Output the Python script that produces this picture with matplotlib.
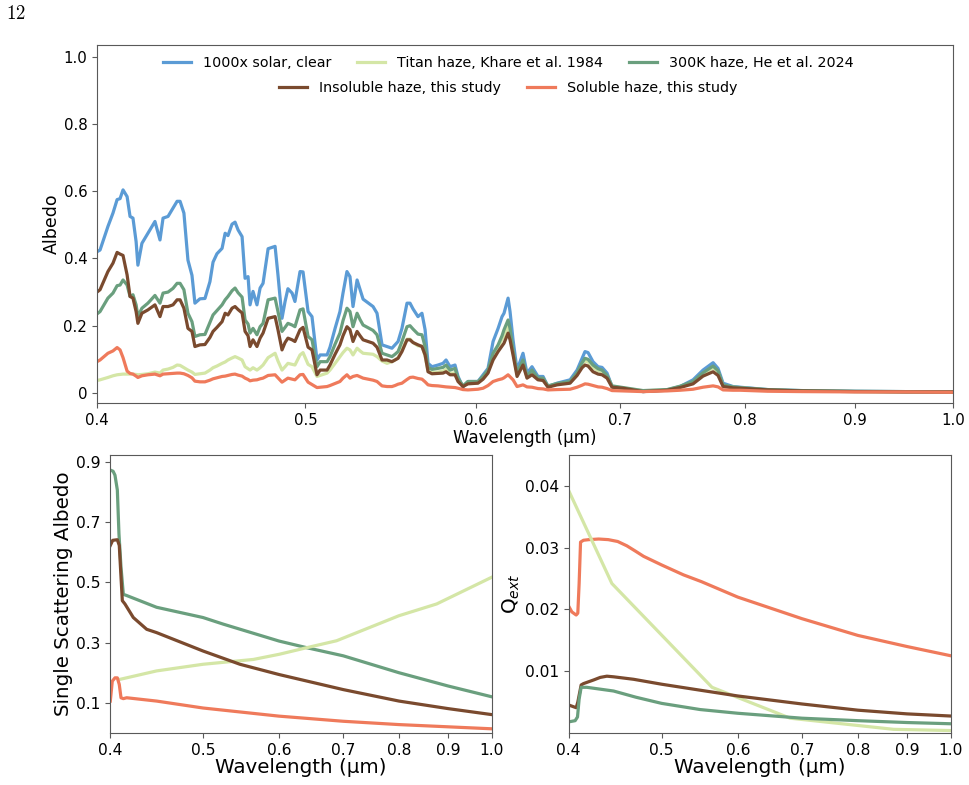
import matplotlib
matplotlib.use('Agg')
import matplotlib.pyplot as plt
from matplotlib.ticker import NullLocator

# ---- top panel: geometric albedo spectra ----
wl = [0.4000, 0.4013, 0.4047, 0.4069, 0.4087, 0.4100, 0.4113, 0.4131, 0.4144, 0.4157,
      0.4171, 0.4179, 0.4197, 0.4224, 0.4256, 0.4279, 0.4293, 0.4316, 0.4339, 0.4358,
      0.4372, 0.4390, 0.4409, 0.4428, 0.4442, 0.4466, 0.4490, 0.4514, 0.4529, 0.4548,
      0.4573, 0.4588, 0.4602, 0.4622, 0.4637, 0.4652, 0.4672, 0.4687, 0.4702, 0.4712,
      0.4727, 0.4747, 0.4763, 0.4778, 0.4804, 0.4840, 0.4855, 0.4876, 0.4892, 0.4907,
      0.4929, 0.4944, 0.4971, 0.4987, 0.5014, 0.5035, 0.5062, 0.5079, 0.5117, 0.5133,
      0.5161, 0.5188, 0.5205, 0.5227, 0.5244, 0.5261, 0.5284, 0.5301, 0.5318, 0.5375,
      0.5398, 0.5427, 0.5456, 0.5485, 0.5503, 0.5521, 0.5544, 0.5574, 0.5592, 0.5610,
      0.5640, 0.5664, 0.5683, 0.5701, 0.5725, 0.5762, 0.5793, 0.5812, 0.5837, 0.5868,
      0.5887, 0.5918, 0.5950, 0.6014, 0.6047, 0.6079, 0.6112, 0.6145, 0.6171, 0.6184,
      0.6211, 0.6224, 0.6244, 0.6271, 0.6311, 0.6338, 0.6372, 0.6413, 0.6448, 0.6482,
      0.6545, 0.6637, 0.6687, 0.6723, 0.6744, 0.6766, 0.6802, 0.6839, 0.6868, 0.6905,
      0.6942, 0.7024, 0.7176, 0.7363, 0.7466, 0.7571, 0.7652, 0.7735, 0.7776, 0.7818,
      0.7902, 0.7962, 0.82, 0.85, 0.90, 0.95, 1.00]

alb_clear = [0.42, 0.425, 0.495, 0.535, 0.575, 0.578, 0.604, 0.584, 0.525, 0.52,
             0.45, 0.38, 0.445, 0.475, 0.51, 0.455, 0.52, 0.525, 0.55, 0.57,
             0.57, 0.535, 0.395, 0.35, 0.267, 0.28, 0.281, 0.331, 0.389, 0.414,
             0.43, 0.475, 0.468, 0.502, 0.508, 0.485, 0.465, 0.341, 0.346, 0.262,
             0.302, 0.262, 0.312, 0.326, 0.429, 0.436, 0.351, 0.222, 0.272, 0.31,
             0.297, 0.272, 0.361, 0.36, 0.242, 0.227, 0.098, 0.113, 0.113, 0.136,
             0.192, 0.242, 0.297, 0.361, 0.346, 0.257, 0.336, 0.307, 0.279, 0.257,
             0.237, 0.143, 0.138, 0.133, 0.143, 0.153, 0.192, 0.267, 0.267, 0.25,
             0.227, 0.237, 0.188, 0.088, 0.078, 0.083, 0.088, 0.098, 0.078, 0.083,
             0.049, 0.017, 0.034, 0.034, 0.054, 0.073, 0.153, 0.192, 0.227, 0.237,
             0.282, 0.242, 0.158, 0.068, 0.118, 0.059, 0.078, 0.049, 0.049, 0.019,
             0.029, 0.039, 0.068, 0.103, 0.123, 0.12, 0.093, 0.078, 0.076, 0.059,
             0.019, 0.014, 0.004, 0.009, 0.019, 0.039, 0.068, 0.09, 0.073, 0.029,
             0.019, 0.017, 0.01, 0.007, 0.005, 0.004, 0.003]

alb_titan = [0.037, 0.039, 0.046, 0.051, 0.054, 0.055, 0.056, 0.056, 0.056, 0.056,
             0.055, 0.054, 0.055, 0.057, 0.062, 0.059, 0.068, 0.071, 0.076, 0.083,
             0.082, 0.075, 0.068, 0.062, 0.055, 0.057, 0.059, 0.068, 0.075, 0.08,
             0.088, 0.092, 0.098, 0.104, 0.108, 0.104, 0.098, 0.078, 0.072, 0.068,
             0.075, 0.068, 0.075, 0.083, 0.105, 0.118, 0.095, 0.068, 0.078, 0.088,
             0.085, 0.083, 0.113, 0.12, 0.085, 0.078, 0.049, 0.052, 0.059, 0.068,
             0.088, 0.108, 0.12, 0.133, 0.128, 0.113, 0.133, 0.125, 0.118, 0.115,
             0.108, 0.095, 0.088, 0.093, 0.098, 0.105, 0.128, 0.16, 0.16, 0.15,
             0.14, 0.14, 0.11, 0.065, 0.06, 0.062, 0.065, 0.07, 0.058, 0.06,
             0.038, 0.02, 0.03, 0.03, 0.045, 0.063, 0.11, 0.135, 0.16, 0.17,
             0.2, 0.175, 0.12, 0.055, 0.09, 0.047, 0.06, 0.041, 0.04, 0.019,
             0.026, 0.032, 0.056, 0.085, 0.095, 0.092, 0.075, 0.066, 0.063, 0.049,
             0.019, 0.015, 0.006, 0.009, 0.018, 0.032, 0.057, 0.075, 0.062, 0.022,
             0.017, 0.015, 0.009, 0.006, 0.004, 0.003, 0.003]

alb_300k = [0.235, 0.242, 0.282, 0.297, 0.319, 0.321, 0.336, 0.321, 0.287, 0.292,
            0.262, 0.227, 0.252, 0.267, 0.29, 0.267, 0.297, 0.30, 0.311, 0.326,
            0.326, 0.307, 0.237, 0.212, 0.168, 0.173, 0.174, 0.21, 0.232, 0.245,
            0.262, 0.277, 0.287, 0.304, 0.312, 0.298, 0.285, 0.217, 0.205, 0.178,
            0.192, 0.173, 0.197, 0.207, 0.277, 0.282, 0.242, 0.183, 0.195, 0.207,
            0.202, 0.197, 0.247, 0.25, 0.168, 0.158, 0.078, 0.093, 0.093, 0.108,
            0.145, 0.178, 0.215, 0.252, 0.242, 0.197, 0.237, 0.218, 0.202, 0.186,
            0.173, 0.118, 0.113, 0.108, 0.115, 0.123, 0.153, 0.197, 0.2, 0.19,
            0.175, 0.173, 0.138, 0.076, 0.07, 0.073, 0.076, 0.083, 0.068, 0.073,
            0.044, 0.021, 0.034, 0.034, 0.049, 0.068, 0.118, 0.143, 0.17, 0.188,
            0.217, 0.192, 0.128, 0.06, 0.098, 0.05, 0.068, 0.044, 0.044, 0.021,
            0.028, 0.034, 0.06, 0.09, 0.103, 0.10, 0.083, 0.072, 0.068, 0.052,
            0.021, 0.016, 0.007, 0.01, 0.02, 0.034, 0.06, 0.08, 0.066, 0.024,
            0.018, 0.016, 0.01, 0.007, 0.005, 0.004, 0.003]

alb_insol = [0.30, 0.307, 0.361, 0.386, 0.418, 0.413, 0.409, 0.351, 0.287, 0.282,
             0.242, 0.207, 0.237, 0.247, 0.262, 0.227, 0.257, 0.257, 0.262, 0.277,
             0.277, 0.252, 0.192, 0.183, 0.138, 0.143, 0.144, 0.165, 0.183, 0.195,
             0.212, 0.237, 0.232, 0.252, 0.257, 0.248, 0.238, 0.183, 0.17, 0.138,
             0.158, 0.138, 0.163, 0.178, 0.222, 0.227, 0.188, 0.128, 0.15, 0.163,
             0.158, 0.153, 0.188, 0.195, 0.136, 0.128, 0.054, 0.068, 0.068, 0.083,
             0.115, 0.143, 0.17, 0.197, 0.188, 0.153, 0.183, 0.17, 0.158, 0.148,
             0.136, 0.098, 0.098, 0.093, 0.098, 0.103, 0.123, 0.158, 0.158, 0.15,
             0.143, 0.138, 0.113, 0.063, 0.057, 0.058, 0.059, 0.063, 0.054, 0.054,
             0.034, 0.019, 0.027, 0.029, 0.041, 0.059, 0.098, 0.123, 0.14, 0.148,
             0.178, 0.158, 0.113, 0.049, 0.083, 0.044, 0.054, 0.039, 0.037, 0.017,
             0.024, 0.029, 0.052, 0.075, 0.083, 0.08, 0.063, 0.056, 0.054, 0.044,
             0.017, 0.014, 0.004, 0.008, 0.016, 0.027, 0.05, 0.063, 0.052, 0.019,
             0.015, 0.014, 0.009, 0.006, 0.004, 0.003, 0.003]

alb_sol = [0.093, 0.098, 0.118, 0.125, 0.135, 0.128, 0.105, 0.065, 0.058, 0.056,
           0.05, 0.046, 0.051, 0.054, 0.056, 0.051, 0.056, 0.057, 0.058, 0.059,
           0.059, 0.057, 0.052, 0.045, 0.035, 0.033, 0.033, 0.038, 0.042, 0.045,
           0.049, 0.05, 0.052, 0.055, 0.056, 0.053, 0.05, 0.044, 0.04, 0.036,
           0.038, 0.039, 0.042, 0.044, 0.052, 0.054, 0.045, 0.032, 0.038, 0.044,
           0.041, 0.039, 0.054, 0.055, 0.032, 0.025, 0.016, 0.017, 0.019, 0.022,
           0.028, 0.034, 0.044, 0.054, 0.044, 0.049, 0.052, 0.048, 0.044, 0.038,
           0.034, 0.021, 0.019, 0.019, 0.022, 0.026, 0.029, 0.04, 0.046, 0.047,
           0.043, 0.041, 0.033, 0.024, 0.022, 0.021, 0.019, 0.018, 0.017, 0.016,
           0.014, 0.01, 0.009, 0.011, 0.014, 0.022, 0.034, 0.039, 0.042, 0.045,
           0.054, 0.048, 0.039, 0.019, 0.024, 0.018, 0.017, 0.013, 0.012, 0.009,
           0.01, 0.011, 0.017, 0.023, 0.027, 0.026, 0.022, 0.018, 0.017, 0.013,
           0.007, 0.006, 0.004, 0.006, 0.008, 0.011, 0.017, 0.021, 0.018, 0.009,
           0.008, 0.008, 0.005, 0.004, 0.003, 0.003, 0.002]

# ---- bottom left: single scattering albedo ----
ssa_300k_wl = [0.4003, 0.4030, 0.4048, 0.4071, 0.4087, 0.4107, 0.4130, 0.4163, 0.4473, 0.5,
               0.525, 0.6, 0.6412, 0.7, 0.8, 0.9, 1.0]
ssa_300k = [0.872, 0.868, 0.855, 0.806, 0.66, 0.55, 0.46, 0.456, 0.417, 0.383,
            0.361, 0.305, 0.283, 0.256, 0.2, 0.156, 0.12]
ssa_insol_wl = [0.4003, 0.4026, 0.4071, 0.4090, 0.4107, 0.4120, 0.4146, 0.4230, 0.4368, 0.4473,
                0.5, 0.5463, 0.6, 0.7, 0.8, 0.9, 1.0]
ssa_insol = [0.622, 0.639, 0.641, 0.622, 0.517, 0.439, 0.428, 0.383, 0.344, 0.333,
             0.272, 0.228, 0.194, 0.144, 0.106, 0.081, 0.061]
ssa_titan_wl = [0.4097, 0.4473, 0.5, 0.5641, 0.6, 0.6412, 0.6888, 0.8, 0.8757, 1.0]
ssa_titan = [0.178, 0.206, 0.228, 0.244, 0.261, 0.283, 0.306, 0.389, 0.428, 0.517]
ssa_sol_wl = [0.4003, 0.4022, 0.4048, 0.4071, 0.4090, 0.4107, 0.4130, 0.4163, 0.4473, 0.5,
              0.6, 0.7, 0.8, 1.0]
ssa_sol = [0.106, 0.172, 0.183, 0.183, 0.161, 0.117, 0.114, 0.117, 0.106, 0.083,
           0.056, 0.039, 0.028, 0.014]

# ---- bottom right: extinction efficiency ----
q_sol_wl = [0.4006, 0.4032, 0.4074, 0.4090, 0.4103, 0.4117, 0.4146, 0.42, 0.43, 0.44,
            0.45, 0.46, 0.47, 0.4788, 0.5, 0.5268, 0.55, 0.6, 0.7, 0.8, 0.9, 1.0]
q_sol = [0.0204, 0.0196, 0.0191, 0.0194, 0.0242, 0.0309, 0.0312, 0.0313, 0.0314, 0.0313,
         0.0310, 0.0303, 0.0294, 0.0286, 0.0272, 0.0256, 0.0245, 0.0220, 0.0185, 0.0158,
         0.0140, 0.0125]
q_titan_wl = [0.4, 0.4438, 0.5641, 0.6803, 0.8716, 1.0]
q_titan = [0.0393, 0.0242, 0.0074, 0.0024, 0.0006, 0.0004]
q_insol_wl = [0.4, 0.4074, 0.4090, 0.4123, 0.4146, 0.4250, 0.4315, 0.4385, 0.4456, 0.4674,
              0.5, 0.55, 0.6, 0.7, 0.8, 0.9, 1.0]
q_insol = [0.00455, 0.0041, 0.0050, 0.00778, 0.0080, 0.0086, 0.0090, 0.0092, 0.0091, 0.0087,
           0.0079, 0.0069, 0.0060, 0.0047, 0.0037, 0.0031, 0.00275]
q_300k_wl = [0.4, 0.4064, 0.4087, 0.4103, 0.4123, 0.4180, 0.4456, 0.47, 0.5, 0.5483,
             0.6, 0.7, 0.8, 0.9, 1.0]
q_300k = [0.0018, 0.0020, 0.0026, 0.0055, 0.0074, 0.0074, 0.0068, 0.0058, 0.0048, 0.0038,
          0.0032, 0.0024, 0.0020, 0.0017, 0.0015]

wl_ticks = [0.4, 0.5, 0.6, 0.7, 0.8, 0.9, 1.0]
wl_ticklabels = ['0.4', '0.5', '0.6', '0.7', '0.8', '0.9', '1.0']

c_clear = '#5b9bd5'
c_titan = '#d4e6a6'
c_300k = '#6a9f7e'
c_insol = '#7a4a2e'
c_sol = '#ef7a5b'
lw = 2.3
spine_col = '0.35'


def style_axes(ax, tick_size):
    ax.set_xscale('log')
    ax.set_xlim(0.4, 1.0)
    ax.set_xticks(wl_ticks)
    ax.set_xticklabels(wl_ticklabels)
    ax.xaxis.set_minor_locator(NullLocator())
    ax.tick_params(labelsize=tick_size, color=spine_col)
    for s in ax.spines.values():
        s.set_color(spine_col)


fig = plt.figure(figsize=(9.7, 7.85), dpi=100)
fig.text(0.006, 0.983, '$12$', math_fontfamily='cm', fontsize=13.5, va='center')

ax = fig.add_axes([0.1, 0.4866, 0.8825, 0.4561])
l1, = ax.plot(wl, alb_clear, color=c_clear, lw=lw, label='1000x solar, clear')
l2, = ax.plot(wl, alb_titan, color=c_titan, lw=lw, label='Titan haze, Khare et al. 1984')
l3, = ax.plot(wl, alb_300k, color=c_300k, lw=lw, label='300K haze, He et al. 2024')
l4, = ax.plot(wl, alb_insol, color=c_insol, lw=lw, label='Insoluble haze, this study')
l5, = ax.plot(wl, alb_sol, color=c_sol, lw=lw, label='Soluble haze, this study')
style_axes(ax, 10.8)
ax.set_ylim(-0.03, 1.035)
ax.set_yticks([0, 0.2, 0.4, 0.6, 0.8, 1.0])
ax.set_yticklabels(['0', '0.2', '0.4', '0.6', '0.8', '1.0'])
ax.set_xlabel('Wavelength (µm)', fontsize=12, labelpad=1)
ax.set_ylabel('Albedo', fontsize=12.5, labelpad=2)
leg1 = ax.legend(handles=[l1, l2, l3], ncol=3, frameon=False, fontsize=10.3,
                 loc='upper center', bbox_to_anchor=(0.48, 1.005), columnspacing=1.8)
ax.add_artist(leg1)
ax.legend(handles=[l4, l5], ncol=2, frameon=False, fontsize=10.3,
          loc='upper center', bbox_to_anchor=(0.48, 0.935), columnspacing=1.8)

ax2 = fig.add_axes([0.1134, 0.0662, 0.3938, 0.3542])
ax2.plot(ssa_300k_wl, ssa_300k, color=c_300k, lw=lw)
ax2.plot(ssa_titan_wl, ssa_titan, color=c_titan, lw=lw)
ax2.plot(ssa_insol_wl, ssa_insol, color=c_insol, lw=lw)
ax2.plot(ssa_sol_wl, ssa_sol, color=c_sol, lw=lw)
style_axes(ax2, 11.2)
ax2.set_ylim(0, 0.922)
ax2.set_yticks([0.1, 0.3, 0.5, 0.7, 0.9])
ax2.set_xlabel('Wavelength (µm)', fontsize=14.3, labelpad=0)
ax2.set_ylabel('Single Scattering Albedo', fontsize=14.3, labelpad=2)

ax3 = fig.add_axes([0.5861, 0.0662, 0.3943, 0.3542])
ax3.plot(q_sol_wl, q_sol, color=c_sol, lw=lw)
ax3.plot(q_titan_wl, q_titan, color=c_titan, lw=lw)
ax3.plot(q_insol_wl, q_insol, color=c_insol, lw=lw)
ax3.plot(q_300k_wl, q_300k, color=c_300k, lw=lw)
style_axes(ax3, 11.2)
ax3.set_ylim(0, 0.045)
ax3.set_yticks([0.01, 0.02, 0.03, 0.04])
ax3.set_yticklabels(['0.01', '0.02', '0.03', '0.04'])
ax3.set_xlabel('Wavelength (µm)', fontsize=14.3, labelpad=0)
ax3.set_ylabel('Q$_{ext}$', fontsize=14.3, labelpad=2)

fig.savefig('out.png', dpi=100)
